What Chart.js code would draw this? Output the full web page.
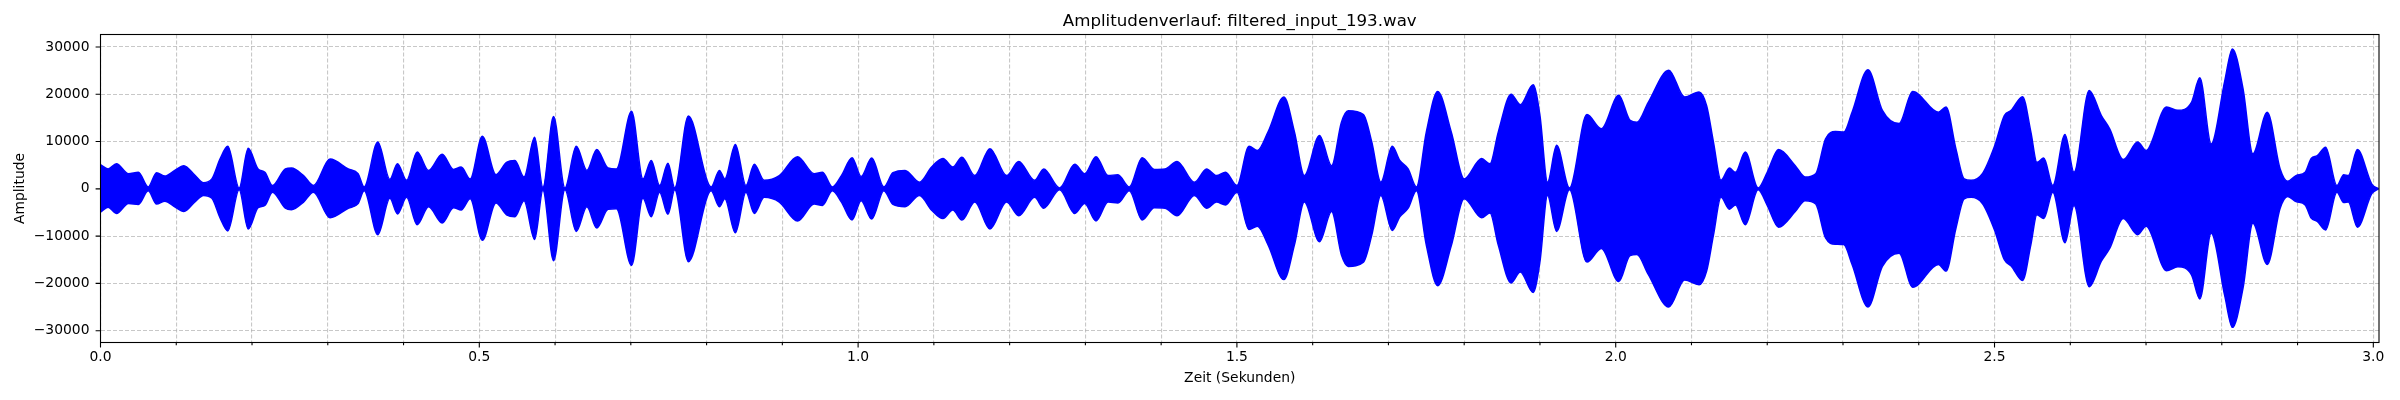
<!DOCTYPE html>
<html>
<head>
<meta charset="utf-8">
<script src="https://cdn.jsdelivr.net/npm/chart.js@4.4.1/dist/chart.umd.min.js"></script>
<style>
html,body{margin:0;padding:0;background:#ffffff;}
#wrap{width:2400px;height:400px;position:relative;}
</style>
</head>
<body>
<div id="wrap"><canvas id="c" width="2400" height="400"></canvas></div>
<script>
// Envelope of the waveform (time in seconds, amplitude)
const timeSec = [
0.000,0.010,0.021,0.037,0.050,0.063,0.074,0.085,0.098,0.110,
0.125,0.136,0.147,0.158,0.168,0.183,0.195,0.208,0.217,0.227,
0.244,0.252,0.268,0.281,0.303,0.327,0.340,0.348,0.366,0.382,
0.392,0.404,0.418,0.433,0.451,0.466,0.476,0.488,0.504,0.522,
0.536,0.547,0.559,0.573,0.584,0.598,0.613,0.628,0.642,0.655,
0.670,0.681,0.701,0.716,0.727,0.738,0.749,0.758,0.776,0.806,
0.817,0.824,0.838,0.852,0.863,0.876,0.896,0.920,0.942,0.953,
0.966,0.978,0.992,1.004,1.018,1.034,1.046,1.062,1.081,1.097,
1.112,1.125,1.137,1.154,1.174,1.196,1.212,1.233,1.245,1.266,
1.286,1.299,1.314,1.330,1.343,1.358,1.375,1.391,1.405,1.421,
1.444,1.460,1.473,1.485,1.500,1.516,1.527,1.541,1.562,1.576,
1.589,1.609,1.625,1.638,1.647,1.667,1.678,1.690,1.705,1.715,
1.726,1.737,1.750,1.765,1.783,1.800,1.823,1.834,1.845,1.862,
1.874,1.891,1.900,1.910,1.922,1.939,1.962,1.981,2.004,2.019,
2.028,2.043,2.070,2.091,2.110,2.120,2.129,2.139,2.150,2.158,
2.171,2.188,2.200,2.215,2.237,2.250,2.264,2.277,2.290,2.301,
2.312,2.333,2.352,2.374,2.392,2.426,2.436,2.449,2.460,2.469,
2.484,2.500,2.513,2.522,2.537,2.548,2.556,2.565,2.577,2.593,
2.605,2.625,2.641,2.652,2.670,2.689,2.700,2.727,2.742,2.760,
2.771,2.786,2.804,2.814,2.828,2.841,2.860,2.877,2.887,2.898,
2.910,2.918,2.926,2.937,2.952,2.961,2.967,2.979,2.998,3.007
];
const upperEnv = [
5100,4200,5300,3200,3500,400,3400,2700,3900,4900,
2800,1300,2100,6400,9000,200,8600,4200,3500,700,
4200,4400,2800,700,6300,4200,3200,400,9900,2000,
5300,1800,7800,3900,7300,4100,4600,2100,11100,3000,
5600,6000,2500,10900,300,15300,200,9000,3900,8300,
4400,4200,16400,2100,6000,700,5400,200,15400,400,
3900,2100,9400,700,5200,1800,2800,6800,3200,3500,
400,2800,6600,2600,6500,400,3400,3900,1400,4600,
6400,4600,6700,2800,8500,2800,5800,1800,4200,200,
5200,3200,6800,2800,3000,400,6600,4100,4200,5800,
1400,4200,2800,3500,700,9000,8100,12000,19400,12000,
2800,11300,4900,14100,16500,15700,9900,1400,9000,6000,
4200,400,12000,20600,12000,2100,6400,5300,12000,20000,
17800,22000,15500,1400,9200,200,15700,12700,19800,14500,
14100,18300,25100,19400,20500,17600,9900,1800,4400,3500,
7800,200,3500,8300,4900,2500,3200,10600,12100,12000,
16200,25200,16600,13800,20600,16200,17300,8500,2100,1800,
3200,9000,15500,16600,19500,12000,5600,6500,700,11500,
3500,20800,15500,12700,6200,9900,8100,17300,16600,18300,
23500,9500,22900,29600,21200,7400,16200,4200,1600,2800,
3500,6400,7000,8800,700,3000,2800,8300,1000,0
];
const lowerEnv = [
-4900,-3900,-5200,-3100,-3300,-400,-3200,-2600,-3800,-4800,
-2700,-1400,-2000,-6200,-8900,-200,-8500,-4000,-3500,-700,
-4100,-4400,-2800,-700,-6100,-4100,-3100,-400,-9700,-2000,
-5300,-1800,-7600,-3800,-7200,-4000,-4500,-2100,-10900,-3000,
-5500,-5900,-2500,-10700,-300,-15200,-200,-9000,-3800,-8300,
-4300,-4200,-16200,-2000,-5900,-700,-5400,-200,-15400,-400,
-3800,-2100,-9300,-700,-5200,-1800,-2800,-6800,-3200,-3500,
-400,-2800,-6600,-2500,-6400,-400,-3300,-3800,-1400,-4500,
-6300,-4500,-6600,-2800,-8500,-2800,-5700,-1800,-4100,-200,
-5200,-3100,-6800,-2800,-3000,-400,-6600,-4000,-4100,-5700,
-1400,-4100,-2800,-3400,-700,-8600,-7900,-11800,-19200,-11800,
-2800,-11200,-4800,-14000,-16400,-15500,-9800,-1400,-8800,-5900,
-4100,-400,-11900,-20500,-12000,-2100,-6100,-5100,-11900,-19900,
-17600,-21900,-15400,-1400,-9000,-200,-15500,-12600,-19600,-14100,
-13900,-18100,-25000,-19300,-20300,-17400,-9800,-1800,-4300,-3400,
-7600,-200,-3500,-8100,-4800,-2500,-3200,-10400,-11700,-11800,
-16000,-25000,-16400,-13600,-20800,-16000,-17400,-8400,-2100,-1800,
-3100,-8700,-15000,-16300,-19400,-11800,-5500,-6300,-700,-11400,
-3500,-20700,-15300,-12600,-6300,-9700,-7900,-17300,-16500,-18200,
-23300,-9400,-22700,-29300,-21000,-7300,-16000,-4100,-1600,-2700,
-3400,-6200,-6900,-8700,-700,-2900,-2800,-8100,-1000,0
];
// Tick positions
const xMajorTicks = [0.0,0.5,1.0,1.5,2.0,2.5,3.0];
const xMinorTicks = [0.1,0.2,0.3,0.4,0.6,0.7,0.8,0.9,1.1,1.2,1.3,1.4,1.6,1.7,1.8,1.9,2.1,2.2,2.3,2.4,2.6,2.7,2.8,2.9];
const yTicks = [-30000,-20000,-10000,0,10000,20000,30000];

const FONT = 'DejaVu Sans';
const gridColor = 'rgba(176,176,176,0.7)';

const mplFrame = {
  id: 'mplFrame',
  afterDraw(chart) {
    const ctx = chart.ctx, a = chart.chartArea, xs = chart.scales.x, ys = chart.scales.y;
    ctx.save();
    ctx.strokeStyle = '#000';
    ctx.lineWidth = 1.1;
    ctx.beginPath();
    xMajorTicks.forEach(v => { const p = xs.getPixelForValue(v); ctx.moveTo(p, a.bottom); ctx.lineTo(p, a.bottom + 4.9); });
    xMinorTicks.forEach(v => { const p = xs.getPixelForValue(v); ctx.moveTo(p, a.bottom); ctx.lineTo(p, a.bottom + 2.8); });
    yTicks.forEach(v => { const p = ys.getPixelForValue(v); ctx.moveTo(a.left, p); ctx.lineTo(a.left - 4.9, p); });
    ctx.stroke();
    ctx.strokeRect(a.left, a.top, a.right - a.left, a.bottom - a.top);
    ctx.restore();
  }
};

const upperData = timeSec.map((t, i) => ({x: t, y: upperEnv[i]}));
const lowerData = timeSec.map((t, i) => ({x: t, y: lowerEnv[i]}));

new Chart(document.getElementById('c'), {
  type: 'line',
  data: {
    datasets: [
      {label: 'upper', data: upperData, borderColor: '#0000ff', backgroundColor: '#0000ff', borderWidth: 1.5, pointRadius: 0, fill: false, cubicInterpolationMode: 'monotone'},
      {label: 'lower', data: lowerData, borderColor: '#0000ff', backgroundColor: '#0000ff', borderWidth: 1.5, pointRadius: 0, fill: '-1', cubicInterpolationMode: 'monotone'}
    ]
  },
  options: {
    responsive: false,
    animation: false,
    devicePixelRatio: 1,
    events: [],
    layout: {padding: {left: 0, right: 21, top: 0, bottom: 0}},
    plugins: {
      legend: {display: false},
      tooltip: {enabled: false},
      title: {
        display: true,
        text: 'Amplitudenverlauf: filtered_input_193.wav',
        fullSize: false,
        color: '#000',
        font: {family: FONT, size: 16.67, weight: 'normal'},
        padding: {top: 11.7, bottom: 2.8}
      }
    },
    scales: {
      x: {
        type: 'linear',
        position: 'bottom',
        min: 0,
        max: 3.0075,
        afterBuildTicks: s => { s.ticks = xMajorTicks.concat(xMinorTicks).sort((a, b) => a - b).map(v => ({value: v})); },
        afterFit: s => { s.height = 57.5; },
        ticks: {
          autoSkip: false, maxRotation: 0, minRotation: 0, padding: 6.2, color: '#000',
          font: {family: FONT, size: 13.89},
          callback: v => xMajorTicks.includes(v) ? v.toFixed(1) : ''
        },
        grid: {color: gridColor, lineWidth: 1.1, drawTicks: false},
        border: {display: false, dash: [4, 2]},
        title: {display: true, text: 'Zeit (Sekunden)', color: '#000', font: {family: FONT, size: 13.89}, padding: {top: 0, bottom: 13.4}}
      },
      y: {
        type: 'linear',
        position: 'left',
        min: -32500,
        max: 32640,
        afterBuildTicks: s => { s.ticks = yTicks.map(v => ({value: v})); },
        afterFit: s => { s.width = 100.5; },
        ticks: {
          padding: 11, color: '#000',
          font: {family: FONT, size: 13.89},
          callback: v => v < 0 ? '\u2212' + Math.abs(v) : String(v)
        },
        grid: {color: gridColor, lineWidth: 1.1, drawTicks: false},
        border: {display: false, dash: [4, 2]},
        title: {display: true, text: 'Amplitude', color: '#000', font: {family: FONT, size: 13.89}, padding: {top: 12.4, bottom: 0}}
      }
    }
  },
  plugins: [mplFrame]
});
</script>
</body>
</html>
